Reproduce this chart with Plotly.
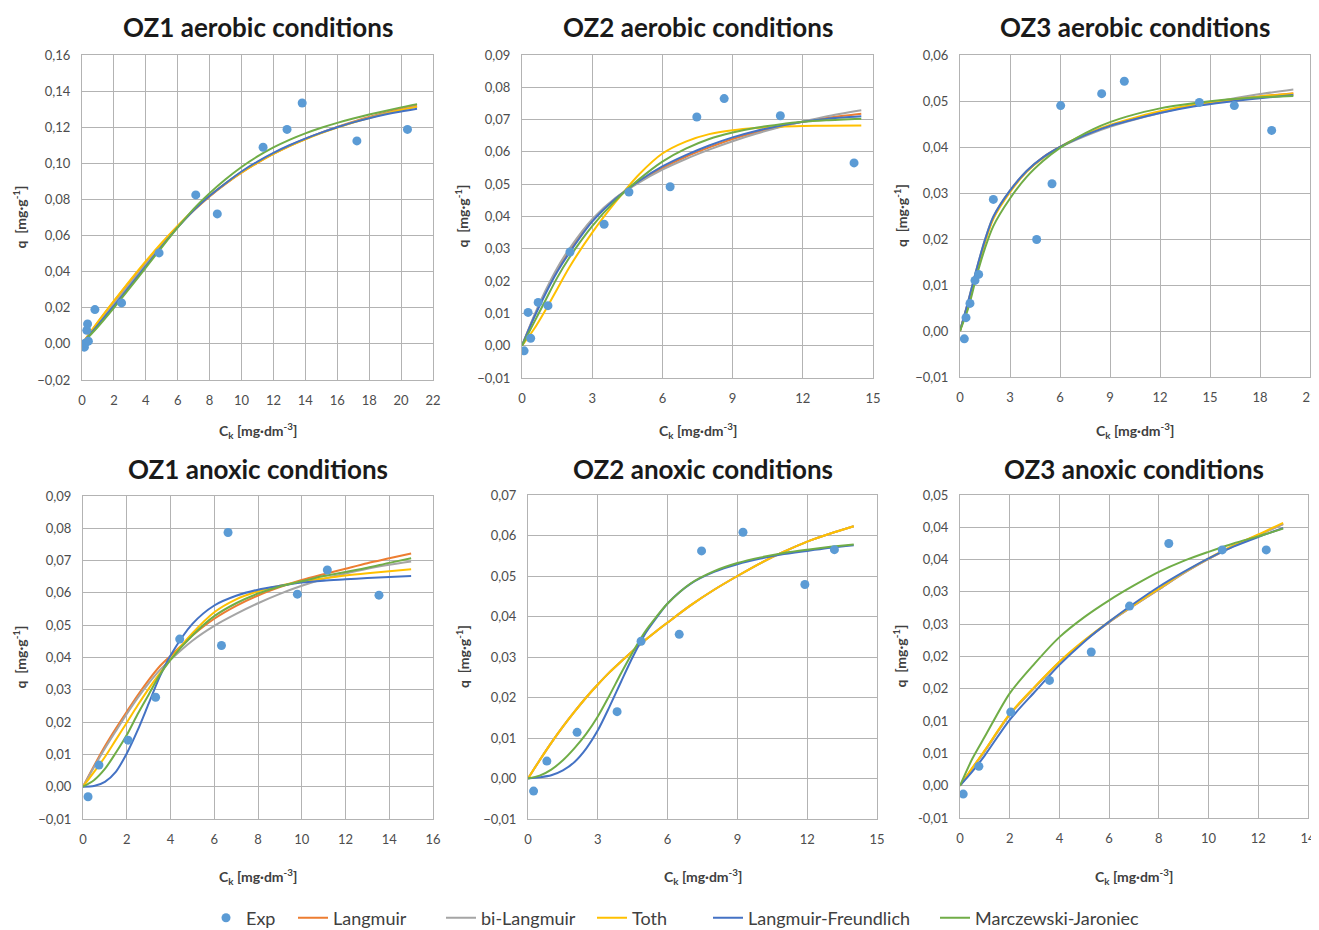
import plotly.graph_objects as go

# ---------------- data ----------------
# OZ1 aerobic
oz1a_exp_x = [0.15, 0.2, 0.3, 0.35, 0.4, 0.81, 2.48, 4.83, 7.13, 8.48, 11.35, 12.85, 13.8, 17.23, 20.4]
oz1a_exp_y = [-0.0018, 0.0004, 0.0075, 0.011, 0.0015, 0.019, 0.0227, 0.0504, 0.0825, 0.072, 0.1089, 0.1188, 0.1334, 0.1124, 0.1188]
oz1a_fit_x = [0, 1, 2, 3, 4, 5, 6, 7, 8, 9, 10, 11, 12, 13, 14, 15, 16, 17, 18, 19, 20, 21]
oz1a_langmuir = [0, 0.0120, 0.0235, 0.0346, 0.0453, 0.0555, 0.0650, 0.0738, 0.0817, 0.0886, 0.0948, 0.1003, 0.1052, 0.1096, 0.1135, 0.1170, 0.1202, 0.1231, 0.1257, 0.1281, 0.1302, 0.1320]
oz1a_bilangmuir = [0, 0.0112, 0.0222, 0.0332, 0.0442, 0.0548, 0.0648, 0.0740, 0.0820, 0.0890, 0.0952, 0.1007, 0.1055, 0.1098, 0.1136, 0.1170, 0.1200, 0.1228, 0.1253, 0.1276, 0.1297, 0.1315]
oz1a_toth = [0, 0.0122, 0.0238, 0.0350, 0.0458, 0.0560, 0.0655, 0.0742, 0.0820, 0.0888, 0.0950, 0.1004, 0.1052, 0.1095, 0.1133, 0.1167, 0.1198, 0.1226, 0.1251, 0.1274, 0.1295, 0.1314]
oz1a_lf = [0, 0.0105, 0.0210, 0.0320, 0.0430, 0.0540, 0.0645, 0.0740, 0.0820, 0.0890, 0.0955, 0.1010, 0.1058, 0.1100, 0.1137, 0.1170, 0.1200, 0.1227, 0.1250, 0.1270, 0.1287, 0.1302]
oz1a_mj = [0, 0.0095, 0.0200, 0.0310, 0.0422, 0.0535, 0.0645, 0.0748, 0.0835, 0.0912, 0.0980, 0.1038, 0.1088, 0.1130, 0.1166, 0.1197, 0.1224, 0.1248, 0.1270, 0.1290, 0.1310, 0.1328]

# OZ2 aerobic
oz2a_exp_x = [0.09, 0.37, 0.26, 0.69, 1.11, 2.05, 3.51, 4.57, 6.33, 7.47, 8.64, 11.04, 14.19]
oz2a_exp_y = [-0.0016, 0.0023, 0.0103, 0.0134, 0.0124, 0.029, 0.0376, 0.0476, 0.0492, 0.0708, 0.0765, 0.0712, 0.0566]
oz2a_fit_x = [0, 0.5, 1, 1.5, 2, 3, 4, 5, 6, 7, 8, 9, 10, 11, 12, 13, 14.5]
oz2a_langmuir = [0, 0.0087, 0.0165, 0.0234, 0.0292, 0.0388, 0.0456, 0.0508, 0.0550, 0.0585, 0.0614, 0.0640, 0.0661, 0.0678, 0.0693, 0.0705, 0.0718]
oz2a_bilangmuir = [0, 0.0090, 0.0170, 0.0240, 0.0298, 0.0392, 0.0458, 0.0505, 0.0545, 0.0578, 0.0607, 0.0633, 0.0656, 0.0676, 0.0694, 0.0710, 0.0729]
oz2a_toth = [0, 0.0050, 0.0110, 0.0175, 0.0240, 0.0350, 0.0445, 0.0530, 0.0595, 0.0632, 0.0655, 0.0667, 0.0674, 0.0678, 0.0680, 0.0681, 0.0682]
oz2a_lf = [0, 0.0085, 0.0160, 0.0228, 0.0285, 0.0384, 0.0455, 0.0510, 0.0555, 0.0590, 0.0620, 0.0645, 0.0665, 0.0680, 0.0693, 0.0702, 0.0710]
oz2a_mj = [0, 0.0070, 0.0140, 0.0210, 0.0270, 0.0370, 0.0450, 0.0515, 0.0570, 0.0610, 0.0640, 0.0660, 0.0675, 0.0685, 0.0693, 0.0698, 0.0703]

# OZ3 aerobic
oz3a_exp_x = [0.26, 0.36, 0.6, 0.9, 1.12, 2.0, 4.6, 5.52, 6.04, 8.5, 9.86, 14.36, 16.46, 18.7]
oz3a_exp_y = [-0.0017, 0.0029, 0.006, 0.011, 0.0123, 0.0286, 0.0199, 0.032, 0.049, 0.0516, 0.0543, 0.0497, 0.049, 0.0436]
oz3a_fit_x = [0, 0.5, 1, 1.5, 2, 3, 4, 5, 6, 7, 8, 9, 10, 12, 14, 16, 18, 20]
oz3a_langmuir = [0, 0.0063, 0.0132, 0.0195, 0.0246, 0.0304, 0.0347, 0.0378, 0.0400, 0.0418, 0.0433, 0.0446, 0.0457, 0.0476, 0.0490, 0.0501, 0.0510, 0.0517]
oz3a_bilangmuir = [0, 0.0066, 0.0136, 0.0199, 0.0249, 0.0306, 0.0348, 0.0377, 0.0399, 0.0416, 0.0431, 0.0444, 0.0455, 0.0474, 0.0490, 0.0503, 0.0515, 0.0525]
oz3a_toth = [0, 0.0062, 0.0130, 0.0193, 0.0244, 0.0302, 0.0346, 0.0377, 0.0400, 0.0419, 0.0435, 0.0448, 0.0459, 0.0478, 0.0492, 0.0502, 0.0510, 0.0516]
oz3a_lf = [0, 0.0065, 0.0135, 0.0198, 0.0248, 0.0305, 0.0348, 0.0378, 0.0400, 0.0418, 0.0433, 0.0446, 0.0456, 0.0474, 0.0488, 0.0498, 0.0506, 0.0513]
oz3a_mj = [0, 0.0050, 0.0120, 0.0180, 0.0228, 0.0288, 0.0335, 0.0370, 0.0398, 0.0420, 0.0439, 0.0454, 0.0466, 0.0484, 0.0495, 0.0503, 0.0508, 0.0511]

# OZ1 anoxic
oz1n_exp_x = [0.23, 0.73, 2.06, 3.32, 4.42, 6.33, 6.63, 9.8, 11.17, 13.53]
oz1n_exp_y = [-0.0031, 0.0067, 0.0144, 0.0277, 0.0457, 0.0437, 0.0787, 0.0596, 0.0671, 0.0593]
oz1n_fit_x = [0, 0.5, 1, 1.5, 2, 2.5, 3, 3.5, 4, 5, 6, 7, 8, 9, 10, 11, 12, 13, 14, 15]
oz1n_langmuir = [0, 0.0064, 0.0125, 0.0180, 0.0232, 0.0283, 0.0330, 0.0372, 0.0405, 0.0468, 0.0520, 0.0560, 0.0592, 0.0618, 0.0640, 0.0658, 0.0675, 0.0692, 0.0707, 0.0722]
oz1n_bilangmuir = [0, 0.0060, 0.0118, 0.0172, 0.0225, 0.0275, 0.0320, 0.0360, 0.0393, 0.0452, 0.0498, 0.0535, 0.0568, 0.0597, 0.0622, 0.0643, 0.0660, 0.0675, 0.0687, 0.0697]
oz1n_toth = [0, 0.0045, 0.0092, 0.0145, 0.0198, 0.0252, 0.0303, 0.0350, 0.0395, 0.0475, 0.0540, 0.0580, 0.0605, 0.0622, 0.0635, 0.0645, 0.0654, 0.0661, 0.0667, 0.0673]
oz1n_lf = [0, 0.0002, 0.0015, 0.0046, 0.0103, 0.0175, 0.0257, 0.0339, 0.0406, 0.0504, 0.0561, 0.0591, 0.0610, 0.0622, 0.0632, 0.0638, 0.0642, 0.0646, 0.0649, 0.0652]
oz1n_mj = [0, 0.0020, 0.0055, 0.0105, 0.0160, 0.0225, 0.0285, 0.0345, 0.0393, 0.0468, 0.0528, 0.0568, 0.0598, 0.0620, 0.0636, 0.0652, 0.0665, 0.0678, 0.0693, 0.0707]

# OZ2 anoxic
oz2n_exp_x = [0.24, 0.81, 2.11, 3.83, 4.86, 6.5, 7.46, 9.24, 11.9, 13.17]
oz2n_exp_y = [-0.0031, 0.0043, 0.0114, 0.0165, 0.0339, 0.0356, 0.0562, 0.0608, 0.0479, 0.0565]
oz2n_fit_x = [0, 0.5, 1, 1.5, 2, 2.5, 3, 3.5, 4, 4.5, 5, 5.5, 6, 7, 8, 9, 10, 11, 12, 13, 14]
oz2n_langmuir = [0, 0.0045, 0.0088, 0.0128, 0.0165, 0.0200, 0.0232, 0.0262, 0.0289, 0.0315, 0.0340, 0.0363, 0.0385, 0.0428, 0.0466, 0.0500, 0.0532, 0.0560, 0.0585, 0.0605, 0.0623]
oz2n_bilangmuir = [0, 0.0045, 0.0088, 0.0128, 0.0165, 0.0200, 0.0232, 0.0262, 0.0289, 0.0315, 0.0340, 0.0363, 0.0385, 0.0428, 0.0466, 0.0500, 0.0532, 0.0560, 0.0585, 0.0605, 0.0623]
oz2n_toth = [0, 0.0045, 0.0088, 0.0128, 0.0165, 0.0200, 0.0232, 0.0262, 0.0289, 0.0315, 0.0340, 0.0363, 0.0385, 0.0428, 0.0466, 0.0500, 0.0532, 0.0560, 0.0585, 0.0605, 0.0623]
oz2n_lf = [0, 0.0003, 0.0008, 0.0020, 0.0041, 0.0074, 0.0119, 0.0177, 0.0239, 0.0300, 0.0354, 0.0395, 0.0432, 0.0481, 0.0510, 0.0529, 0.0543, 0.0554, 0.0562, 0.0570, 0.0576]
oz2n_mj = [0, 0.0007, 0.0022, 0.0045, 0.0075, 0.0110, 0.0153, 0.0205, 0.0260, 0.0312, 0.0360, 0.0398, 0.0432, 0.0482, 0.0512, 0.0532, 0.0546, 0.0557, 0.0565, 0.0572, 0.0578]

# OZ3 anoxic
oz3n_exp_x = [0.13, 0.76, 2.04, 3.6, 5.28, 6.82, 8.4, 10.55, 12.32]
oz3n_exp_y = [-0.0013, 0.003, 0.0114, 0.0163, 0.0207, 0.0278, 0.0375, 0.0365, 0.0365]
oz3n_fit_x = [0, 0.5, 1, 2, 3, 4, 5, 6, 7, 8, 9, 10, 11, 12, 13]
oz3n_langmuir = [0, 0.0027, 0.0054, 0.0110, 0.0152, 0.0191, 0.0224, 0.0253, 0.0279, 0.0304, 0.0329, 0.0351, 0.0371, 0.0388, 0.0405]
oz3n_bilangmuir = [0, 0.0027, 0.0054, 0.0110, 0.0152, 0.0191, 0.0224, 0.0253, 0.0279, 0.0304, 0.0329, 0.0351, 0.0371, 0.0388, 0.0405]
oz3n_toth = [0, 0.0028, 0.0055, 0.0111, 0.0153, 0.0192, 0.0225, 0.0254, 0.0280, 0.0305, 0.0330, 0.0352, 0.0372, 0.0389, 0.0407]
oz3n_lf = [0, 0.0022, 0.0047, 0.0102, 0.0145, 0.0187, 0.0223, 0.0254, 0.0282, 0.0308, 0.0331, 0.0352, 0.0370, 0.0385, 0.0399]
oz3n_mj = [0, 0.0042, 0.0076, 0.0143, 0.0189, 0.0230, 0.0261, 0.0287, 0.0310, 0.0331, 0.0348, 0.0362, 0.0375, 0.0386, 0.0398]

titles = ["OZ1 aerobic conditions", "OZ2 aerobic conditions", "OZ3 aerobic conditions",
          "OZ1 anoxic conditions", "OZ2 anoxic conditions", "OZ3 anoxic conditions"]
series_names = ["Exp", "Langmuir", "bi-Langmuir", "Toth", "Langmuir-Freundlich", "Marczewski-Jaroniec"]

x_ranges = [[0, 22], [0, 15], [0, 21], [0, 16], [0, 15], [0, 14]]
x_dticks = [2, 3, 3, 2, 3, 2]
y_ranges = [[-0.02, 0.16], [-0.01, 0.09], [-0.01, 0.06], [-0.01, 0.09], [-0.01, 0.07], [-0.005, 0.045]]
y_dticks = [0.02, 0.01, 0.01, 0.01, 0.01, 0.005]
oz3n_y_tickvals = [-0.005, 0.0, 0.005, 0.01, 0.015, 0.02, 0.025, 0.03, 0.035, 0.04, 0.045]
oz3n_y_ticktext = ["-0,01", "0,00", "0,01", "0,01", "0,02", "0,02", "0,03", "0,03", "0,04", "0,04", "0,05"]

# ---------------- styling ----------------
colors = ["#5B9BD5", "#ED7D31", "#A5A5A5", "#FFC000", "#4472C4", "#70AD47"]
FONT = "Lato, 'Open Sans', sans-serif"
GRID = "#B3B3B3"
TICK_COLOR = "#4d4d4d"
OFF = 8                       # page body margin offset
W, H = 1319 - OFF, 930 - OFF  # figure size so that it fits in the window


def px_x(p):
    return (p - OFF) / W


def px_y(p):
    return 1 - (p - OFF) / H


# plot-area rectangles in window pixels (left, right, top, bottom)
rects = [(82, 433, 55, 380), (522, 873, 55, 378), (960, 1310, 55, 377),
         (83, 433, 496, 819), (528, 877, 495, 819), (960, 1308, 495, 818)]
# legend entries: left position (window px) of each entry
legend_left = [206, 293, 441, 592, 708, 935]

panels = [
    (oz1a_exp_x, oz1a_exp_y, oz1a_fit_x, [oz1a_langmuir, oz1a_bilangmuir, oz1a_toth, oz1a_lf, oz1a_mj]),
    (oz2a_exp_x, oz2a_exp_y, oz2a_fit_x, [oz2a_langmuir, oz2a_bilangmuir, oz2a_toth, oz2a_lf, oz2a_mj]),
    (oz3a_exp_x, oz3a_exp_y, oz3a_fit_x, [oz3a_langmuir, oz3a_bilangmuir, oz3a_toth, oz3a_lf, oz3a_mj]),
    (oz1n_exp_x, oz1n_exp_y, oz1n_fit_x, [oz1n_langmuir, oz1n_bilangmuir, oz1n_toth, oz1n_lf, oz1n_mj]),
    (oz2n_exp_x, oz2n_exp_y, oz2n_fit_x, [oz2n_langmuir, oz2n_bilangmuir, oz2n_toth, oz2n_lf, oz2n_mj]),
    (oz3n_exp_x, oz3n_exp_y, oz3n_fit_x, [oz3n_langmuir, oz3n_bilangmuir, oz3n_toth, oz3n_lf, oz3n_mj]),
]

legend_ids = ["legend", "legend2", "legend3", "legend4", "legend5", "legend6"]

fig = go.Figure()
layout = {}
annotations = []
marker_traces = []

for i, (ex, ey, fx, fits) in enumerate(panels):
    n = i + 1
    xa = "x" if n == 1 else f"x{n}"
    ya = "y" if n == 1 else f"y{n}"
    l, r, t, b = rects[i]
    xdom = [px_x(l), px_x(r)]
    ydom = [px_y(b), px_y(t)]
    yaxis = dict(domain=ydom, anchor=xa, range=y_ranges[i], showgrid=True, gridcolor=GRID,
                 gridwidth=1.2, showline=True, linecolor=GRID, linewidth=1.2, mirror=True,
                 zeroline=False, ticks="", ticklabelstandoff=8, automargin=False,
                 ticklabeloverflow="allow",
                 tickfont=dict(family=FONT, size=13, color=TICK_COLOR))
    if i == 5:
        yaxis.update(tickmode="array", tickvals=oz3n_y_tickvals, ticktext=oz3n_y_ticktext)
    else:
        yaxis.update(tick0=0, dtick=y_dticks[i], tickformat=".2f")
    xaxis = dict(domain=xdom, anchor=ya, range=x_ranges[i], tick0=0, dtick=x_dticks[i],
                 showgrid=True, gridcolor=GRID, gridwidth=1.2, showline=True, linecolor=GRID,
                 linewidth=1.2, mirror=True, zeroline=False, ticks="", ticklabelstandoff=8,
                 automargin=False, ticklabeloverflow="allow",
                 tickfont=dict(family=FONT, size=13, color=TICK_COLOR))
    layout["xaxis" if n == 1 else f"xaxis{n}"] = xaxis
    layout["yaxis" if n == 1 else f"yaxis{n}"] = yaxis

    for k, fy in enumerate(fits):
        fig.add_trace(go.Scatter(x=fx, y=fy, mode="lines", name=series_names[k + 1],
                                 line=dict(color=colors[k + 1], width=2, shape="spline", smoothing=0.8),
                                 legendgroup=series_names[k + 1], showlegend=(i == 0),
                                 legend=legend_ids[k + 1],
                                 xaxis=xa, yaxis=ya, hoverinfo="skip"))
    marker_traces.append(go.Scatter(x=ex, y=ey, mode="markers", name=series_names[0],
                                    marker=dict(color=colors[0], size=9),
                                    legendgroup="Exp", showlegend=(i == 0), legend=legend_ids[0],
                                    xaxis=xa, yaxis=ya))

    cx = (l + r) / 2
    title_y = 27 if i < 3 else 469
    annotations.append(dict(text=f"<b>{titles[i]}</b>", x=px_x(cx), y=px_y(title_y), xref="paper",
                            yref="paper", showarrow=False, xanchor="center", yanchor="middle",
                            font=dict(family=FONT, size=26, color="#1a1a1a")))
    xt_y = 430 if i < 3 else 876
    annotations.append(dict(text="<b>C<sub>k</sub> [mg·dm<sup>-3</sup>]</b>", x=px_x(cx), y=px_y(xt_y),
                            xref="paper", yref="paper", showarrow=False, xanchor="center",
                            yanchor="middle", font=dict(family=FONT, size=14, color="#404040")))
    yt_x = [20, 462, 900][i % 3]
    annotations.append(dict(text="<b>q  [mg·g<sup>-1</sup>]</b>", x=px_x(yt_x), y=px_y((t + b) / 2),
                            xref="paper", yref="paper", showarrow=False, xanchor="center",
                            yanchor="middle", textangle=-90,
                            font=dict(family=FONT, size=14, color="#404040")))

for tr in marker_traces:
    fig.add_trace(tr)

legends = {}
for j, lid in enumerate(legend_ids):
    legends[lid] = dict(orientation="h", x=px_x(legend_left[j]), xanchor="left", y=px_y(918),
                        yanchor="middle", font=dict(family=FONT, size=18, color="#404040"),
                        itemwidth=30, bgcolor="rgba(0,0,0,0)")

fig.update_layout(
    width=W, height=H, paper_bgcolor="white", plot_bgcolor="white",
    margin=dict(l=0, r=0, t=0, b=0, autoexpand=False), separators=",.",
    font=dict(family=FONT, color="#404040"),
    annotations=annotations,
    **legends,
    **layout,
)

fig.write_html("out.html")
